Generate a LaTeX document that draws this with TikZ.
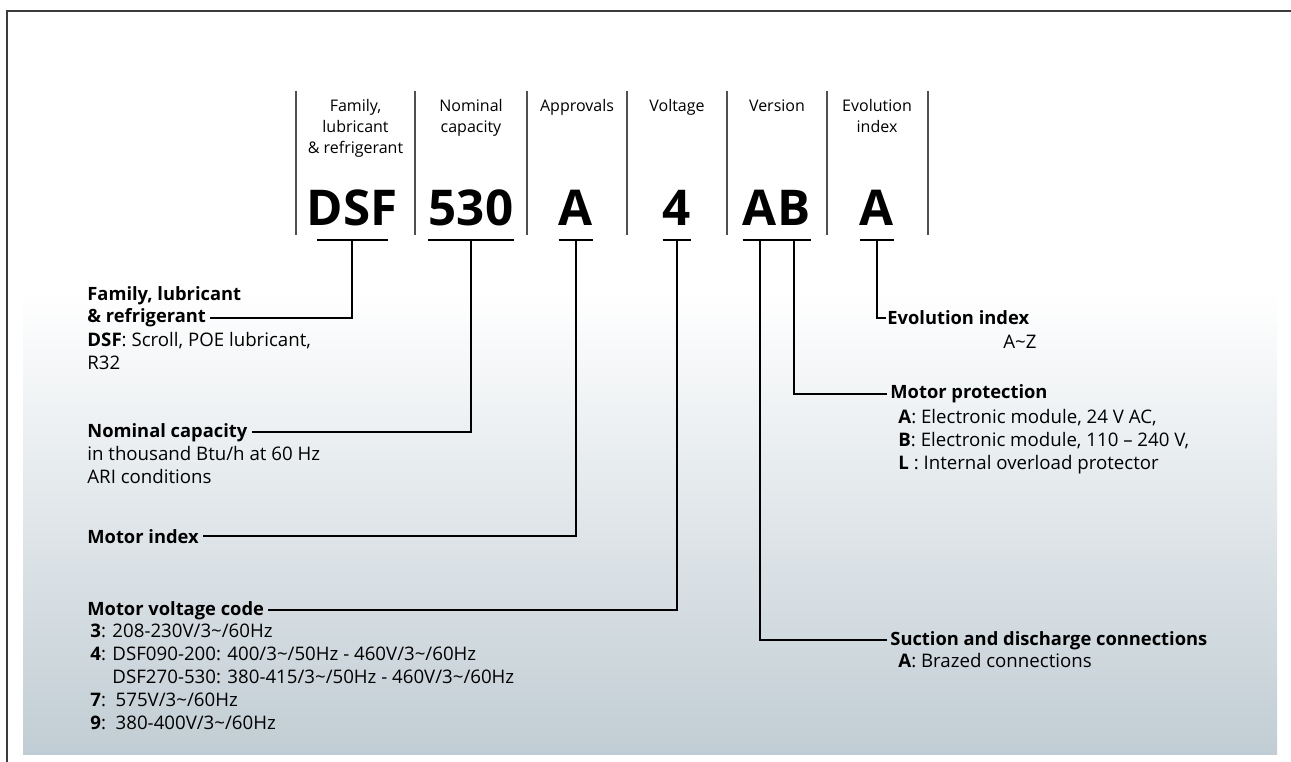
\documentclass[tikz,border=0pt]{standalone}
\usepackage{fontspec}
\setmainfont{Open Sans}
\usetikzlibrary{positioning}

\definecolor{panelbot}{RGB}{193,205,212}
\definecolor{framegray}{RGB}{60,60,60}
\definecolor{sepgray}{RGB}{80,80,80}

\begin{document}
\begin{tikzpicture}[
            x = 0.75pt,
            y = -0.75pt,
            node distance = 0pt,
            semithick
        ]

        \tikzstyle{colhead}=[
            font = \fontsize{12}{15.6}\selectfont,
            align = center,
            anchor = north,
            inner sep = 0pt
        ]
        \tikzstyle{code}=[
            font = \fontsize{37}{37}\selectfont\bfseries,
            anchor = base,
            inner sep = 0pt,
            text depth = 0pt
        ]
        \tikzstyle{lbl}=[font=\fontsize{13.75}{17}\selectfont\bfseries, anchor=base west, inner sep=0pt]
        \tikzstyle{desc}=[font=\fontsize{14}{17.3}\selectfont, align=left, anchor=north west, inner sep=0pt]
        \tikzstyle{lead}=[line width=1.5pt, black]
        \tikzstyle{sep}=[line width=0.8pt, sepgray]

        \useasboundingbox (0,0) rectangle (1291,762);

        % panel and frame
        \shade[top color=white, bottom color=panelbot] (23,290) rectangle (1277,754);
        \draw[line width=1.6pt, framegray] (1291,11) -- (7,11) -- (7,762);

        % column separators
        \foreach \xs in {296,415,527,627,727,827,928}
            \draw[sep] (\xs,91) -- (\xs,235);

        % column headings
        \node[colhead] (hfam) at (355.5,99) {Family,\\lubricant\\\& refrigerant};
        \node[colhead] (hcap) at (471,99) {Nominal\\capacity};
        \node[colhead] (happ) at (577,99) {Approvals};
        \node[colhead] (hvol) at (677,99) {Voltage};
        \node[colhead] (hver) at (777,99) {Version};
        \node[colhead] (hevo) at (877,99) {Evolution\\index};

        % code letters
        \node[code] (dsf) at (352,226) {DSF};
        \node[code] (cap) at (471,226) {530};
        \node[code] (app) at (576,226) {A};
        \node[code] (vol) at (677,226) {4};
        \node[code] (verA) at (760,226) {A};
        \node[code, right=0pt of verA] (verB) {B};
        \node[code] (evo) at (877,226) {A};

        % left labels
        \node[lbl] (fam1) at (87,301) {Family, lubricant};
        \node[lbl] (fam) at (87,323) {\& refrigerant};
        \node[desc] (famd) at (87,330) {\strut\textbf{DSF}: Scroll, POE lubricant,\\R32};

        \node[lbl] (capl) at (87,437) {Nominal capacity};
        \node[desc] (capd) at (87,444) {\strut in thousand Btu/h at 60 Hz\\ARI conditions};

        \node[lbl] (motl) at (87,543) {Motor index};

        \node[lbl] (voll) at (87,615) {Motor voltage code};
        \node[desc] (vold) at (90,621) {\strut\textbf{3}: 208-230V/3\textasciitilde/60Hz\\
            \textbf{4}: DSF090-200: 400/3\textasciitilde/50Hz - 460V/3\textasciitilde/60Hz\\
            \phantom{\textbf{4}: }DSF270-530: 380-415/3\textasciitilde/50Hz - 460V/3\textasciitilde/60Hz\\
            \textbf{7}:\ \ 575V/3\textasciitilde/60Hz\\
            \textbf{9}:\ \ 380-400V/3\textasciitilde/60Hz};

        % right labels
        \node[lbl] (evol) at (887,325) {Evolution index};
        \node[desc] (evod) at (1003,332) {\strut A\textasciitilde Z};

        \node[lbl] (prol) at (890,399) {Motor protection};
        \node[desc] (prod) at (898,407) {\strut\textbf{A}: Electronic module, 24 V AC,\\
            \textbf{B}: Electronic module, 110 -- 240 V,\\
            \textbf{L} : Internal overload protector};

        \node[lbl] (conl) at (890,645) {Suction and discharge connections};
        \node[desc] (cond) at (898,651) {\strut\textbf{A}: Brazed connections};

        % underlines
        \draw[lead] ([shift={(8pt,-10.5pt)}]dsf.south west) -- ([shift={(-7pt,-10.5pt)}]dsf.south east);
        \foreach \n in {cap,app,vol,verA,verB,evo}
            \draw[lead] ([yshift=-10.5pt]\n.south west) -- ([yshift=-10.5pt]\n.south east);

        % leaders
        \draw[lead, shorten >=3pt] ([yshift=-10.5pt]dsf.south) |- (fam.east);
        \draw[lead, shorten >=3pt] ([yshift=-10.5pt]cap.south) |- (capl.east);
        \draw[lead, shorten >=3pt] ([yshift=-10.5pt]app.south) |- (motl.east);
        \draw[lead, shorten >=3pt] ([yshift=-10.5pt]vol.south) |- (voll.east);
        \draw[lead, shorten >=2pt] ([yshift=-10.5pt]verA.south) |- (conl.west);
        \draw[lead, shorten >=2pt] ([yshift=-10.5pt]verB.south) |- (prol.west);
        \draw[lead, shorten >=1pt] ([yshift=-10.5pt]evo.south) |- (evol.west);

    \end{tikzpicture}
\end{document}
